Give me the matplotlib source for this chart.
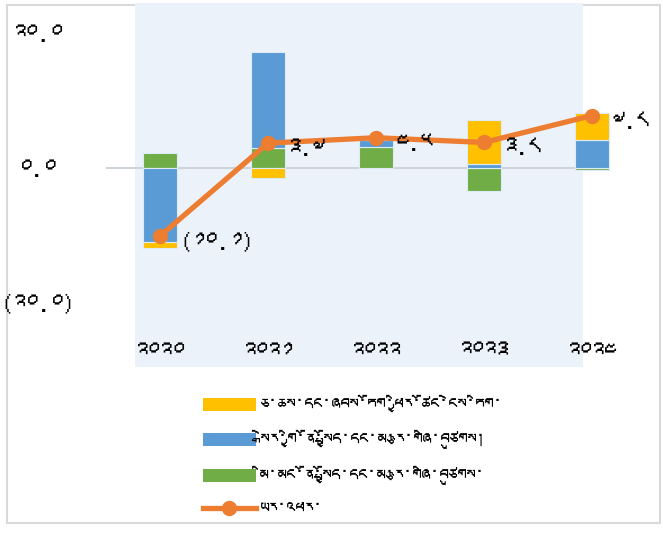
import numpy as np
import matplotlib
matplotlib.use("Agg")
import matplotlib.pyplot as plt
from matplotlib import font_manager
from matplotlib.ft2font import FT2Font
from matplotlib.patches import Rectangle, Patch
from matplotlib.lines import Line2D

# data
years = ["༢༠༢༠", "༢༠༢༡", "༢༠༢༢", "༢༠༢༣", "༢༠༢༤"]
public = [2.3, 3.0, 3.1, -3.4, -0.3]        # green
private = [-11.0, 14.2, 1.1, 0.6, 4.1]      # blue
net_exports = [-0.85, -1.5, 0.0, 6.5, 4.1]  # yellow
growth = [-10.1, 3.7, 4.5, 3.8, 7.8]
growth_labels = ["(༡༠.༡)", "༣.༧", "༤.༥", "༣.༨", "༧.༨"]
yticks = [20, 0, -20]
ytick_labels = ["༢༠.༠", "༠.༠", "(༢༠.༠)"]
series_names = [
    "ཅ་ཆས་དང་ཞབས་ཏོག་ཕྱིར་ཚོང་ངེས་ཏིག་",
    "སྒེར་གྱི་ནོ་སྤྱོད་དང་མ་རྩ་གཞི་བཙུགས།",
    "མི་མང་ནོ་སྤྱོད་དང་མ་རྩ་གཞི་བཙུགས་",
    "ཡར་འཕར་",
]

# look for a font with Tibetan glyphs, fall back to DejaVu
tib = None
for f in font_manager.fontManager.ttflist:
    try:
        if 0x0F40 in FT2Font(f.fname).get_charmap():
            tib = f.name
            break
    except Exception:
        pass
plt.rcParams["font.family"] = [tib, "DejaVu Sans"] if tib else ["DejaVu Sans"]

W, H = 663, 534
fig = plt.figure(figsize=(W / 100, H / 100), dpi=100)

# outer border and shaded plot area
fig.patches.append(Rectangle((7 / W, 1 - 523 / H), 653 / W, 518 / H, transform=fig.transFigure,
                             facecolor="white", edgecolor="#D9D9D9", lw=1.5, zorder=0))
fig.patches.append(Rectangle((135 / W, 1 - 367 / H), 448 / W, 364 / H, transform=fig.transFigure,
                             facecolor="#EBF2FA", edgecolor="none", zorder=0.5))

ax = fig.add_axes([106 / W, 1 - 367 / H, 540 / W, 364 / H])
ax.set_zorder(2)
ax.set_facecolor("none")
x = np.arange(len(years))
ax.set_xlim(-0.5, 4.5)
ax.set_ylim(-29.57, 24.52)

colors = {"green": "#70AD47", "blue": "#5B9BD5", "yellow": "#FFC000"}
pos = np.zeros(len(x))
neg = np.zeros(len(x))
for vals, c in [(public, colors["green"]), (private, colors["blue"]), (net_exports, colors["yellow"])]:
    v = np.array(vals)
    bottom = np.where(v >= 0, pos, neg)
    ax.bar(x, v, bottom=bottom, width=0.315, color=c, edgecolor="#DDEBF7", linewidth=0.8, zorder=3)
    pos = pos + np.where(v >= 0, v, 0)
    neg = neg + np.where(v < 0, v, 0)

ax.plot([-0.5, 3.92], [0, 0], color="#D0D3D9", lw=1.5, zorder=2)

ax.plot(x, growth, color="#ED7D31", lw=3.8, marker="o", markersize=10, zorder=4)
for xi, yi, lab in zip(x, growth, growth_labels):
    ax.annotate(lab, (xi, yi), xytext=(14, -4), textcoords="offset points",
                ha="left", va="center", fontsize=18, fontweight="bold", zorder=5)

for xi, lab in zip(x, years):
    ax.text(xi, 0.041, lab, transform=ax.get_xaxis_transform(), ha="center", va="center",
            fontsize=18, fontweight="bold")

ax.set_xticks([])
ax.set_yticks(yticks)
ax.set_yticklabels(ytick_labels, fontsize=18, fontweight="bold", ha="center")
ax.tick_params(axis="y", length=0, pad=49)
for s in ax.spines.values():
    s.set_visible(False)

handles = [
    Patch(facecolor=colors["yellow"]),
    Patch(facecolor=colors["blue"]),
    Patch(facecolor=colors["green"]),
    Line2D([], [], color="#ED7D31", lw=3.8, marker="o", markersize=10),
]
fig.legend(handles, series_names, loc="upper left", bbox_to_anchor=(187 / W, 1 - 379 / H),
           frameon=False, fontsize=13, handlelength=2.9, handleheight=0.7,
           labelspacing=0.95, handletextpad=0.25)

fig.savefig("out.png", dpi=100)
